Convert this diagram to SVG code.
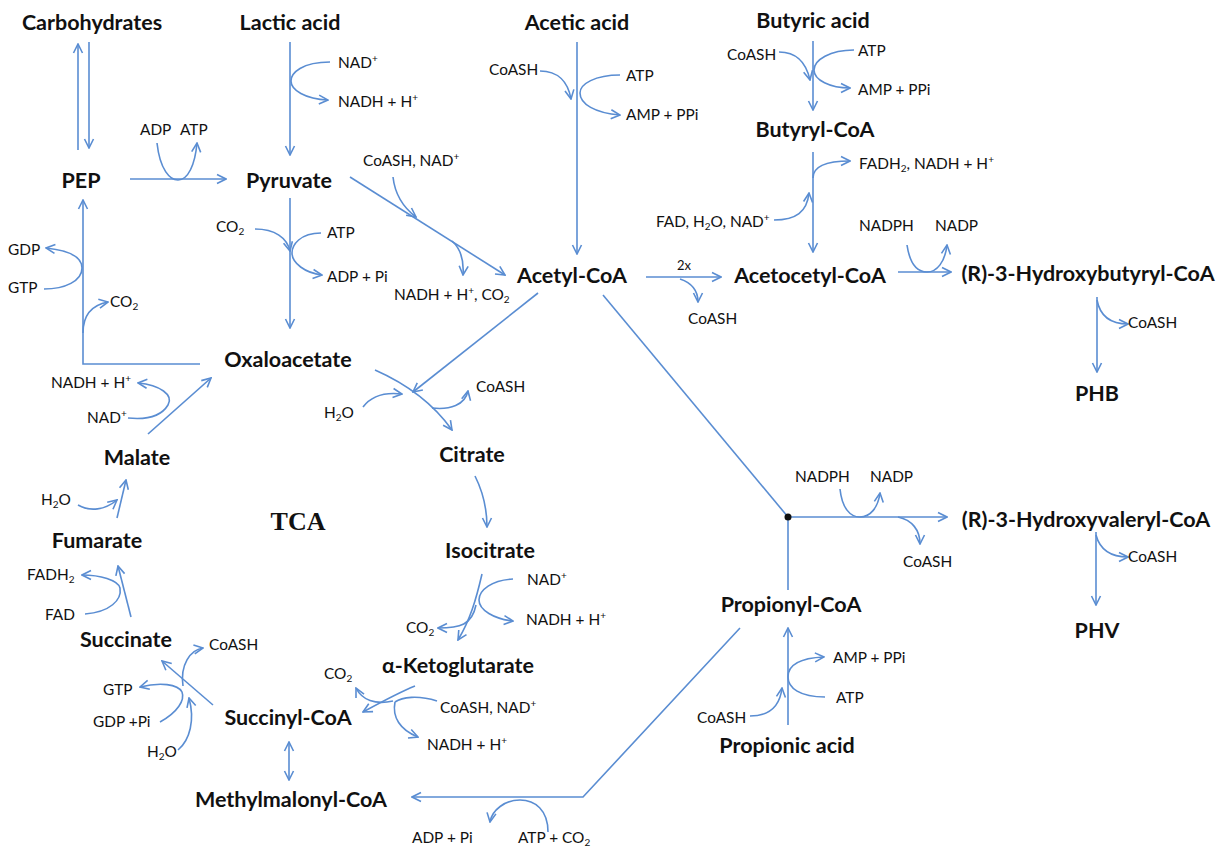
<svg xmlns="http://www.w3.org/2000/svg" width="1228" height="850" viewBox="0 0 1228 850">
<style>
.n{font-family:Lato,"Open Sans","Liberation Sans",sans-serif;font-weight:bold;font-size:21.5px;fill:#111;text-anchor:middle}
.s{font-family:Lato,"Open Sans","Liberation Sans",sans-serif;font-size:15.4px;fill:#111}
.tca{font-family:"Liberation Serif",serif;font-weight:bold;font-size:26px;fill:#111;text-anchor:middle}
.sub{font-size:10px;baseline-shift:-3px}
.sup{font-size:10px;baseline-shift:super}
.ln{fill:none;stroke:#5a8dd2;stroke-width:1.6}
.a{marker-end:url(#ah)}
.b{marker-start:url(#ah);marker-end:url(#ah)}
</style>
<defs>
<marker id="ah" viewBox="0 0 12 12" refX="11" refY="6" markerWidth="12" markerHeight="12" markerUnits="userSpaceOnUse" orient="auto-start-reverse">
<path d="M2,1.5 L11,6 L2,10.5" fill="none" stroke="#5a8dd2" stroke-width="1.6"/>
</marker>
</defs>
<rect width="1228" height="850" fill="#fff"/>
<g id="connectors">
<path class="ln a" d="M78,150 L78,44"/>
<path class="ln a" d="M89,42 L89,148"/>
<path class="ln a" d="M130,179 L226,179"/>
<path class="ln a" d="M157,143 C160,170 170,180 178,180 C188,180 195,165 197,143"/>
<path class="ln a" d="M290,42 L290,155"/>
<path class="ln a" d="M330,62 C302,62 291,73 291,81 C291,90 305,99 328,100"/>
<path class="ln a" d="M290,198 L290,328"/>
<path class="ln a" d="M255,229 C275,229 287,238 290,251"/>
<path class="ln a" d="M321,233 C300,233 292,245 292,253 C292,263 305,273 322,275"/>
<path class="ln a" d="M350,177 L505,275"/>
<path class="ln a" d="M393,177 C395,195 404,208 416,217"/>
<path class="ln a" d="M452,241 C462,250 464,262 463,275"/>
<path class="ln a" d="M577,42 L577,254"/>
<path class="ln a" d="M540,71 C558,71 568,82 571,99"/>
<path class="ln a" d="M620,75 C595,75 580,84 580,93 C580,104 595,113 620,115"/>
<path class="ln a" d="M813,41 L813,110"/>
<path class="ln a" d="M779,52 C796,52 806,62 810,80"/>
<path class="ln a" d="M854,50 C830,50 814,60 814,70 C814,80 830,88 850,88"/>
<path class="ln a" d="M813,152 L813,252"/>
<path class="ln a" d="M813,178 C813,167 825,161 850,161"/>
<path class="ln a" d="M774,220 C796,220 807,212 809,193"/>
<path class="ln a" d="M646,277 L721,277"/>
<path class="ln a" d="M680,279 C692,283 698,290 698,302"/>
<path class="ln a" d="M898,272 L951,272"/>
<path class="ln a" d="M907,245 C910,265 918,272 927,272 C937,272 945,262 947,245"/>
<path class="ln a" d="M1097,297 L1097,372"/>
<path class="ln a" d="M1097,300 C1100,316 1110,324 1128,324"/>
<path class="ln a" d="M538,293 L413,392"/>
<path class="ln a" d="M375,370 Q425,392 452,430"/>
<path class="ln a" d="M363,407 C372,395 385,392 402,394"/>
<path class="ln a" d="M432,408 C450,410 465,405 468,391"/>
<path class="ln a" d="M475,476 C482,490 487,505 487,527"/>
<path class="ln" d="M603,295 L788,517"/>
<path class="ln a" d="M788,517 L947,517"/>
<path class="ln a" d="M840,489 C842,508 850,517 860,517 C870,517 878,508 880,493"/>
<path class="ln a" d="M898,517 C912,520 920,530 920,544"/>
<path class="ln" d="M788,590 L788,517"/>
<path class="ln a" d="M1096,532 L1096,605"/>
<path class="ln a" d="M1096,535 C1100,550 1110,557 1128,557"/>
<path class="ln a" d="M788,725 L788,628"/>
<path class="ln a" d="M750,716 C770,716 780,705 782,688"/>
<path class="ln a" d="M825,697 C800,697 788,688 788,677 C788,665 800,658 824,657"/>
<path class="ln a" d="M740,628 L583,797 L412,797"/>
<path class="ln a" d="M548,832 C548,810 535,800 520,800 C505,800 492,810 490,822"/>
<path class="ln a" d="M482,574 C476,600 470,620 458,640"/>
<path class="ln a" d="M513,579 C492,580 479,590 479,600 C479,610 494,619 513,621"/>
<path class="ln a" d="M476,605 C472,625 460,628 438,628"/>
<path class="ln a" d="M415,686 C400,692 385,700 363,712"/>
<path class="ln a" d="M393,701 C375,705 362,700 356,688"/>
<path class="ln" d="M437,701 C418,695 402,697 395,702"/>
<path class="ln a" d="M395,702 C392,717 400,730 418,737"/>
<path class="ln a" d="M213,705 L162,661"/>
<path class="ln a" d="M183,686 C180,665 190,650 203,648"/>
<path class="ln a" d="M160,722 C178,712 185,700 182,692 C178,684 160,682 140,687"/>
<path class="ln a" d="M178,750 C190,740 195,720 189,698"/>
<path class="ln a" d="M131,617 L118,566"/>
<path class="ln a" d="M85,614 C110,612 122,600 120,588 C118,580 100,575 82,575"/>
<path class="ln a" d="M117,518 L126,480"/>
<path class="ln a" d="M78,505 C90,512 105,510 117,500"/>
<path class="ln a" d="M148,434 L211,378"/>
<path class="ln a" d="M128,418 C148,420 162,415 168,405 C174,395 160,385 138,383"/>
<path class="ln a" d="M200,364 L83,364 L83,200"/>
<path class="ln a" d="M83,333 C83,315 92,305 108,302"/>
<path class="ln a" d="M44,289 C65,289 82,281 82,268 C82,255 65,250 46,248"/>
<path class="ln b" d="M289,742 L289,780"/>
<circle cx="788" cy="517" r="3.5" fill="#111"/>
</g>
<g id="carbohydrates"><text class="n" x="92" y="30">Carbohydrates</text></g>
<g id="lactic-acid"><text class="n" x="290" y="30">Lactic acid</text></g>
<g id="acetic-acid"><text class="n" x="577" y="30">Acetic acid</text></g>
<g id="butyric-acid"><text class="n" x="813" y="28">Butyric acid</text></g>
<g id="butyryl-coa"><text class="n" x="815" y="137">Butyryl-CoA</text></g>
<g id="pep"><text class="n" x="81" y="188">PEP</text></g>
<g id="pyruvate"><text class="n" x="289" y="188">Pyruvate</text></g>
<g id="acetyl-coa"><text class="n" x="572" y="283">Acetyl-CoA</text></g>
<g id="acetocetyl-coa"><text class="n" x="810" y="283">Acetocetyl-CoA</text></g>
<g id="hydroxybutyryl-coa"><text class="n" x="1088" y="281">(R)-3-Hydroxybutyryl-CoA</text></g>
<g id="phb"><text class="n" x="1097" y="401">PHB</text></g>
<g id="oxaloacetate"><text class="n" x="288" y="367">Oxaloacetate</text></g>
<g id="citrate"><text class="n" x="472" y="462">Citrate</text></g>
<g id="malate"><text class="n" x="137" y="465">Malate</text></g>
<g id="tca"><text class="tca" x="298" y="530">TCA</text></g>
<g id="fumarate"><text class="n" x="97" y="548">Fumarate</text></g>
<g id="isocitrate"><text class="n" x="490" y="558">Isocitrate</text></g>
<g id="succinate"><text class="n" x="126" y="647">Succinate</text></g>
<g id="ketoglutarate"><text class="n" x="458" y="673">α-Ketoglutarate</text></g>
<g id="succinyl-coa"><text class="n" x="288" y="725">Succinyl-CoA</text></g>
<g id="methylmalonyl-coa"><text class="n" x="291" y="807">Methylmalonyl-CoA</text></g>
<g id="propionyl-coa"><text class="n" x="791" y="612">Propionyl-CoA</text></g>
<g id="propionic-acid"><text class="n" x="787" y="753">Propionic acid</text></g>
<g id="hydroxyvaleryl-coa"><text class="n" x="1086" y="527">(R)-3-Hydroxyvaleryl-CoA</text></g>
<g id="phv"><text class="n" x="1097" y="638">PHV</text></g>
<g id="cofactors">
<text class="s" x="338" y="68">NAD<tspan class="sup">+</tspan></text>
<text class="s" x="338" y="107">NADH + H<tspan class="sup">+</tspan></text>
<text class="s" x="140" y="135">ADP</text>
<text class="s" x="180" y="135">ATP</text>
<text class="s" x="216" y="232">CO<tspan class="sub">2</tspan></text>
<text class="s" x="327" y="238">ATP</text>
<text class="s" x="327" y="282">ADP + Pi</text>
<text class="s" x="363" y="166">CoASH, NAD<tspan class="sup">+</tspan></text>
<text class="s" x="394" y="300">NADH + H<tspan class="sup">+</tspan>, CO<tspan class="sub">2</tspan></text>
<text class="s" x="489" y="75">CoASH</text>
<text class="s" x="626" y="81">ATP</text>
<text class="s" x="626" y="120">AMP + PPi</text>
<text class="s" x="727" y="60">CoASH</text>
<text class="s" x="858" y="56">ATP</text>
<text class="s" x="858" y="95">AMP + PPi</text>
<text class="s" x="859" y="169">FADH<tspan class="sub">2</tspan>, NADH + H<tspan class="sup">+</tspan></text>
<text class="s" x="656" y="227">FAD, H<tspan class="sub">2</tspan>O, NAD<tspan class="sup">+</tspan></text>
<text class="s" x="859" y="231">NADPH</text>
<text class="s" x="935" y="231">NADP</text>
<text class="s" x="677" y="270" style="font-size:13px">2x</text>
<text class="s" x="688" y="324">CoASH</text>
<text class="s" x="1128" y="328">CoASH</text>
<text class="s" x="795" y="482">NADPH</text>
<text class="s" x="870" y="482">NADP</text>
<text class="s" x="903" y="567">CoASH</text>
<text class="s" x="1128" y="562">CoASH</text>
<text class="s" x="324" y="418">H<tspan class="sub">2</tspan>O</text>
<text class="s" x="476" y="392">CoASH</text>
<text class="s" x="8" y="255">GDP</text>
<text class="s" x="8" y="293">GTP</text>
<text class="s" x="110" y="307">CO<tspan class="sub">2</tspan></text>
<text class="s" x="51" y="388">NADH + H<tspan class="sup">+</tspan></text>
<text class="s" x="87" y="423">NAD<tspan class="sup">+</tspan></text>
<text class="s" x="41" y="505">H<tspan class="sub">2</tspan>O</text>
<text class="s" x="27" y="580">FADH<tspan class="sub">2</tspan></text>
<text class="s" x="45" y="620">FAD</text>
<text class="s" x="209" y="650">CoASH</text>
<text class="s" x="103" y="695">GTP</text>
<text class="s" x="93" y="727">GDP +Pi</text>
<text class="s" x="147" y="757">H<tspan class="sub">2</tspan>O</text>
<text class="s" x="527" y="585">NAD<tspan class="sup">+</tspan></text>
<text class="s" x="526" y="625">NADH + H<tspan class="sup">+</tspan></text>
<text class="s" x="406" y="633">CO<tspan class="sub">2</tspan></text>
<text class="s" x="324" y="679">CO<tspan class="sub">2</tspan></text>
<text class="s" x="440" y="713">CoASH, NAD<tspan class="sup">+</tspan></text>
<text class="s" x="427" y="750">NADH + H<tspan class="sup">+</tspan></text>
<text class="s" x="412" y="843">ADP + Pi</text>
<text class="s" x="518" y="843">ATP + CO<tspan class="sub">2</tspan></text>
<text class="s" x="833" y="663">AMP + PPi</text>
<text class="s" x="836" y="703">ATP</text>
<text class="s" x="697" y="723">CoASH</text>
</g>
</svg>
